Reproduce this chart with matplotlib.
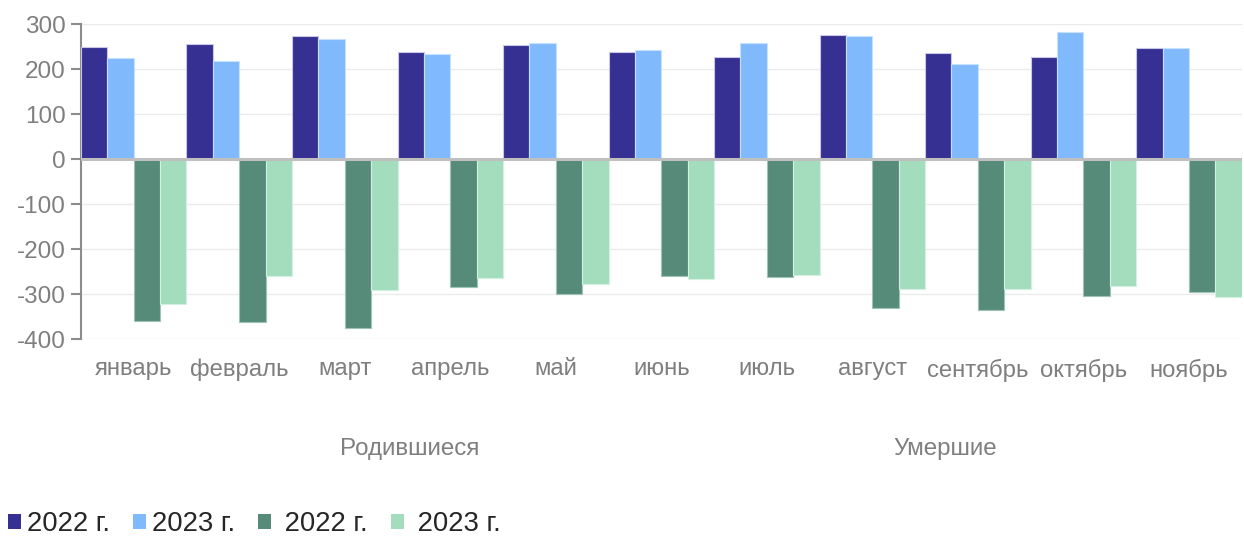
import matplotlib
matplotlib.use("Agg")
import matplotlib.pyplot as plt
import numpy as np
from matplotlib.patches import Patch

plt.rcParams['font.family'] = ['Liberation Sans', 'DejaVu Sans']

months = ["январь", "февраль", "март", "апрель", "май", "июнь", "июль",
          "август", "сентябрь", "октябрь", "ноябрь"]
births_2022 = [249, 255, 273, 237, 253, 239, 228, 276, 235, 226, 247]
births_2023 = [224, 219, 266, 234, 259, 242, 257, 274, 211, 283, 248]
deaths_2022 = [-361, -363, -376, -284, -301, -259, -262, -330, -336, -304, -296]
deaths_2023 = [-323, -259, -291, -264, -277, -267, -258, -289, -289, -282, -307]
series_labels = ["2022 г.", "2023 г.", "2022 г.", "2023 г."]
group_labels = ["Родившиеся", "Умершие"]
yticks = [300, 200, 100, 0, -100, -200, -300, -400]

colors = ["#373093", "#80BAFD", "#568B79", "#A3DDBD"]
edges = ["#c9c7e6", "#c6e0ff", "#9fc3b6", "#d3f0e0"]

fig = plt.figure(figsize=(12.44, 5.36), dpi=100)
ax = fig.add_axes([0.0651, 0.3675, 0.933, 0.5875])

x = np.arange(len(months))
w = 0.25
data = [births_2022, births_2023, deaths_2022, deaths_2023]
offsets = [-0.375, -0.125, 0.125, 0.375]
for vals, off, c, e in zip(data, offsets, colors, edges):
    ax.bar(x + off, vals, width=w, color=c, edgecolor=e, linewidth=0.8, zorder=3)

ax.set_xlim(-0.5, len(months) - 0.5)
ax.set_ylim(-400, 300)
ax.set_yticks(yticks)
ax.set_yticklabels([str(v) for v in yticks], fontsize=17.5, color="#7f7f7f")
ax.grid(axis="y", color="#ebebeb", linewidth=1, zorder=0)
ax.axhline(0, color="#bfbfbf", linewidth=2.2, zorder=4)

for s in ["top", "right", "bottom"]:
    ax.spines[s].set_visible(False)
ax.spines["left"].set_color("#8c8c8c")
ax.spines["left"].set_linewidth(1.5)
ax.tick_params(axis="y", length=7, width=1.5, color="#8c8c8c", pad=4)
ax.tick_params(axis="x", length=0, pad=14)
ax.set_xticks(x)
ax.set_xticklabels(months, fontsize=17.2, color="#7f7f7f")

# group labels
fig.text(410 / 1244, 1 - 449 / 536, group_labels[0], ha="center", va="center",
         fontsize=17.4, color="#7f7f7f")
fig.text(945 / 1244, 1 - 449 / 536, group_labels[1], ha="center", va="center",
         fontsize=17.4, color="#7f7f7f")

handles = [Patch(facecolor=c, edgecolor="none") for c in colors]
leg_labels = [series_labels[0], series_labels[1], " " + series_labels[2], " " + series_labels[3]]
fig.legend(handles, leg_labels, loc="center left", bbox_to_anchor=(8 / 1244, 1 - 524 / 536),
           ncol=4, frameon=False, fontsize=19.8, handlelength=0.48, handleheight=0.48,
           handletextpad=0.2, columnspacing=0.85, labelcolor="#262626",
           borderaxespad=0.0, borderpad=0.0)

fig.savefig("out.png", dpi=100, facecolor="white")
